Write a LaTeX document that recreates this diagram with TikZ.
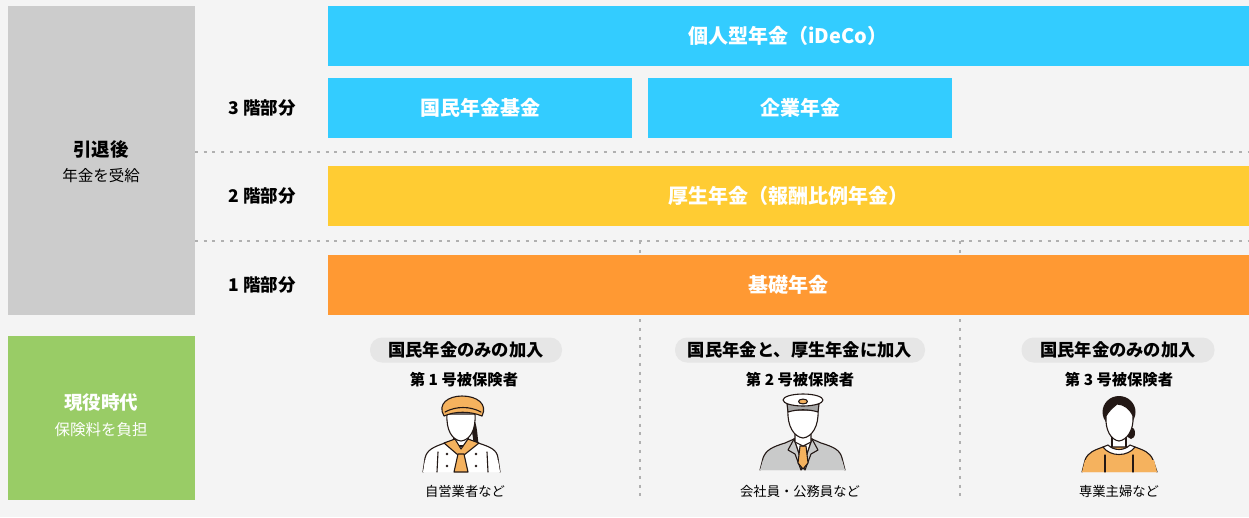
\documentclass[tikz,border=0pt]{standalone}
\usepackage{fontspec}
\setmainfont{Noto Sans CJK JP}
\definecolor{bgc}{HTML}{F4F4F4}
\definecolor{skyc}{HTML}{33CCFF}
\definecolor{yelc}{HTML}{FFCC33}
\definecolor{orac}{HTML}{FF9933}
\definecolor{panelgray}{HTML}{CCCCCC}
\definecolor{panelgreen}{HTML}{99CC66}
\definecolor{pillc}{HTML}{E6E6E6}
\definecolor{inkc}{HTML}{231815}
\definecolor{softor}{HTML}{F5B25E}
\definecolor{suitc}{HTML}{C9CACA}
\definecolor{dotc}{HTML}{B0B0B0}
\newcommand{\fs}[1]{\fontsize{#1}{#1}\selectfont}
\tikzset{
  bar/.style={fill=#1, draw=none, inner sep=0pt, text=white, font=\fs{20}\bfseries},
  panel/.style={fill=#1, draw=none, inner sep=0pt, minimum width=187, minimum height=0},
  floor/.style={font=\fs{17.5}\bfseries, text=black, inner sep=0pt},
  pill/.style={fill=pillc, rounded corners=12, minimum height=25, inner sep=0pt, font=\fs{17.3}\bfseries, text=black},
  kind/.style={font=\fs{15.3}\bfseries, text=black, inner sep=0pt},
  who/.style={font=\fs{13.3}, text=black, inner sep=0pt},
  guide/.style={draw=dotc, line width=1.1, dash pattern=on 3 off 5.7},
  pline/.style={draw=inkc, line width=1.1, line join=round, line cap=round},
}
\begin{document}
\begin{tikzpicture}[x=1pt, y=-1pt]
\useasboundingbox (0,0) rectangle (1249,517);
\fill[bgc] (0,0) rectangle (1249,517);

% side panels
\node[panel=panelgray, minimum height=309, anchor=north west] (retired) at (8,6) {};
\node[panel=panelgreen, minimum height=164, anchor=north west] (working) at (8,336) {};
\node[font=\fs{18.5}\bfseries, text=black, inner sep=0pt] (retT) at (101,149) {引退後};
\node[font=\fs{15.5}, text=black, inner sep=0pt] (retS) at (101,176) {年金を受給};
\node[font=\fs{18.5}\bfseries, text=white, inner sep=0pt] (workT) at (101,403) {現役時代};
\node[font=\fs{15.5}, text=white, inner sep=0pt] (workS) at (101,430) {保険料を負担};

% guide lines
\coordinate (g1a) at (195,152); \coordinate (g1b) at (1249,152);
\coordinate (g2a) at (195,241); \coordinate (g2b) at (1249,241);
\coordinate (v1a) at (640,241); \coordinate (v1b) at (640,497);
\coordinate (v2a) at (960,241); \coordinate (v2b) at (960,497);
\draw[guide] (g1a) -- (g1b);
\draw[guide] (g2a) -- (g2b);
\draw[guide] (v1a) -- (v1b);
\draw[guide] (v2a) -- (v2b);

% pension tiers
\node[bar=skyc, minimum width=921, minimum height=60, anchor=north west] (ideco) at (328,6) {};
\node[bar=skyc, inner sep=0pt] at (788,36) {個人型年金（iDeCo）};
\node[bar=skyc, minimum width=304, minimum height=60] (kokumin) at (480,108) {国民年金基金};
\node[bar=skyc, minimum width=304, minimum height=60] (kigyo) at (800,108) {企業年金};
\node[bar=yelc, minimum width=921, minimum height=60, anchor=north west] (kosei) at (328,166) {};
\node[bar=yelc, fill=none] at (788,196) {厚生年金（報酬比例年金）};
\node[bar=orac, minimum width=921, minimum height=60, anchor=north west] (kiso) at (328,255) {};
\node[bar=orac, fill=none] at (788,285) {基礎年金};

\node[floor] (f3) at (262,108) {3 階部分};
\node[floor] (f2) at (262,196) {2 階部分};
\node[floor] (f1) at (262,285) {1 階部分};

% insured categories
\node[pill, minimum width=192] (p1) at (466,350) {国民年金のみの加入};
\node[pill, minimum width=250] (p2) at (800,350) {国民年金と、厚生年金に加入};
\node[pill, minimum width=193] (p3) at (1118,350) {国民年金のみの加入};
\node[kind] (k1) at (464,380) {第 1 号被保険者};
\node[kind] (k2) at (800,380) {第 2 号被保険者};
\node[kind] (k3) at (1119,380) {第 3 号被保険者};
\node[who] (w1) at (465,491) {自営業者など};
\node[who] (w2) at (800,491) {会社員・公務員など};
\node[who] (w3) at (1119,491) {専業主婦など};

% person 1: self-employed (cook)
\fill[inkc] (472,416) .. controls (478,424) and (477,436) .. (479,447) -- (474,447) .. controls (473,438) and (472,428) .. (469,420) -- cycle;
\path[pline, fill=white] (423,472) -- (425,458) .. controls (427,450) and (433,447) .. (445,443) -- (455,440) -- (468,440) -- (478,443) .. controls (491,447) and (497,450) .. (498,458) -- (500,472);
\fill[white] (423,472) -- (500,472) -- (498,460) -- (425,460) -- cycle;
\draw[pline] (438,452) -- (437,472);
\draw[pline] (487,452) -- (488,472);
\foreach \bx/\by in {447/454, 447/466, 476/454, 476/466} \fill[inkc] (\bx,\by) circle (1.4);
\path[pline, fill=white] (454,428) -- (454,446) -- (468,446) -- (468,428);
\path[pline, fill=softor] (444,443) -- (455,439) -- (461,449) -- (468,439) -- (479,443) -- (464,455) -- (458,455) -- cycle;
\path[pline, fill=softor] (458,454) -- (454,472) -- (468,472) -- (464,454) -- cycle;
\path[pline, fill=white] (447,414) .. controls (446,430) and (452,440) .. (461,441) .. controls (470,440) and (476,430) .. (475,414) -- cycle;
\path[pline, fill=softor] (444,416) .. controls (437,404) and (448,396) .. (462,396) .. controls (477,396) and (488,404) .. (482,416) .. controls (470,411) and (455,411) .. (444,416) -- cycle;
\draw[pline] (445,412) .. controls (456,406) and (470,406) .. (481,412);

% person 2: company employee / civil servant (officer)
\path[pline, fill=suitc] (760,470) -- (763,458) .. controls (766,450) and (772,447) .. (785,443) -- (794,439) -- (812,439) -- (821,443) .. controls (834,447) and (840,450) .. (842,458) -- (845,470);
\fill[suitc] (760,470) -- (845,470) -- (842,460) -- (763,460) -- cycle;
\path[pline, fill=white] (794,439) -- (803,466) -- (812,439) -- cycle;
\path[pline, fill=suitc] (794,439) -- (788,450) -- (795,454) -- (801,470) -- (803,466) -- cycle;
\path[pline, fill=suitc] (812,439) -- (818,450) -- (811,454) -- (805,470) -- (803,466) -- cycle;
\path[pline, fill=softor] (800,446) -- (806,446) -- (808,463) -- (803,469) -- (798,463) -- cycle;
\path[pline, fill=white] (795,426) -- (795,442) -- (803,446) -- (811,442) -- (811,426);
\path[pline, fill=white] (788,410) .. controls (787,426) and (794,437) .. (803,438) .. controls (812,437) and (819,426) .. (818,410) -- cycle;
\path[pline, fill=gray!70] (787,404) -- (819,404) -- (818,412) .. controls (808,409) and (798,409) .. (788,412) -- cycle;
\path[pline, fill=white] (803,400) ellipse (20 and 6);
\path[pline, fill=softor] (803,401.5) ellipse (4.5 and 2.4);

% person 3: homemaker
\fill[inkc] (1119,412) ellipse (16.5 and 16);
\fill[inkc] (1131,433) ellipse (4 and 6);
\path[pline, fill=white] (1112,430) -- (1112,450) -- (1126,450) -- (1126,430);
\path[pline, fill=softor] (1082,472) -- (1085,460) .. controls (1088,452) and (1095,450) .. (1103,447) -- (1135,447) .. controls (1143,450) and (1150,452) .. (1153,460) -- (1157,472);
\fill[softor] (1082,472) -- (1157,472) -- (1154,460) -- (1085,460) -- cycle;
\path[pline, fill=white] (1103,447) .. controls (1110,457) and (1128,457) .. (1135,447) -- (1130,445) .. controls (1124,451) and (1114,451) .. (1108,445) -- cycle;
\draw[pline] (1105,455) -- (1105,472);
\draw[pline] (1133,455) -- (1133,472);
\path[pline, fill=white] (1106,416) .. controls (1105,430) and (1111,440) .. (1119,441) .. controls (1127,440) and (1134,430) .. (1133,416) .. controls (1130,409) and (1124,404) .. (1117,404) .. controls (1112,408) and (1108,412) .. (1106,416) -- cycle;
\end{tikzpicture}
\end{document}
